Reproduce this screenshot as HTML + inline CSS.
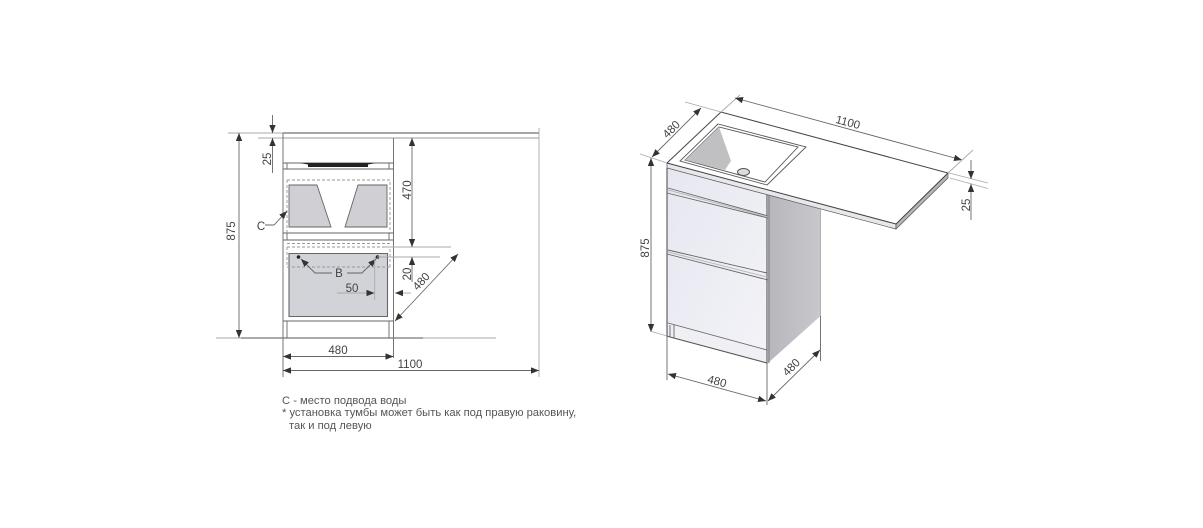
<!DOCTYPE html>
<html><head><meta charset="utf-8"><style>
html,body{margin:0;padding:0;background:#fff;width:1203px;height:528px;overflow:hidden}
svg{display:block;filter:blur(.35px)}
text{font-family:"Liberation Sans",sans-serif;fill:#444;font-size:11.5px;text-anchor:middle}
.l{stroke:#666;stroke-width:.9;fill:none}
.t{stroke:#aaa;stroke-width:.9;fill:none}
.k{stroke:#555;stroke-width:1.1;fill:none}
.d{stroke:#999;stroke-width:.9;fill:none;stroke-dasharray:3 2}
.n{font-size:11.2px;text-anchor:start;fill:#555}
</style></head><body>
<svg width="1203" height="528" viewBox="0 0 1203 528" xmlns="http://www.w3.org/2000/svg">
<defs>
<marker id="a" viewBox="0 0 10 8" refX="10" refY="4" markerWidth="8" markerHeight="6.4" markerUnits="userSpaceOnUse" orient="auto-start-reverse"><path d="M0 0L10 4L0 8z" fill="#333"/></marker>
<linearGradient id="fr" x1="0" y1="0" x2="1" y2="1"><stop offset="0" stop-color="#e6e7f0"/><stop offset="1" stop-color="#f3f3f8"/></linearGradient>
<linearGradient id="sd" x1="0" y1="0" x2="1" y2="0"><stop offset="0" stop-color="#b6b6bc"/><stop offset="1" stop-color="#c8c8cc"/></linearGradient>
</defs>

<!-- LEFT VIEW -->
<path class="t" d="M228 133H283M258 138H283M393 338H496M216 338H241"/>
<path d="M283 133H539" stroke="#888" stroke-width="1.4"/>
<path d="M283 138H539" stroke="#999" stroke-width="1.1"/>
<path class="t" d="M539 128V377"/>
<path class="l" d="M283 133V377"/>
<path class="l" d="M393.500 138V358"/>
<path d="M241 338H423" stroke="#777" stroke-width="1.3"/>
<path class="l" d="M283 321H393.500M287 321V338M389 321V338"/>
<path class="l" d="M283 163H393.500M283 169H393.500M287 163V169M389 163V169M283 233H393.500M283 240H393.500M287 233V240M389 233V240"/>
<path d="M300 163H376L368 164.500V167H308V164.500z" fill="#222"/>
<path class="d" d="M287 180H390V233M287 180V233M287 243.500H390"/>
<path d="M289 185H317L331 227H289zM358 185H387V227H345z" fill="#cfcfd4" stroke="#666" stroke-width=".9"/>
<path d="M289 253.500H387.500V316.500H289z" fill="#d2d2d9" stroke="#666" stroke-width="1.1"/>
<path class="d" d="M287 247H390V267M287 247V267M287 267H390"/>
<circle cx="298.500" cy="257" r="1.800" fill="#222"/><circle cx="377.500" cy="257" r="1.800" fill="#222"/>
<path class="l" d="M332 273H315L301 259" marker-end="url(#a)"/>
<path class="l" d="M347 273H362L376 259" marker-end="url(#a)"/>
<text x="339" y="277">В</text>
<path class="t" d="M377 257H440M385 247H451M374.700 257V300"/>
<path class="t" d="M337 293H374.500" marker-end="url(#a)"/>
<path class="t" d="M411 293H395" marker-end="url(#a)"/>
<text x="352" y="292">50</text>
<path class="l" d="M239 133V338" marker-start="url(#a)" marker-end="url(#a)"/>
<text transform="translate(235,231) rotate(-90)">875</text>
<path class="l" d="M272.500 115V133" marker-end="url(#a)"/>
<path class="l" d="M272.500 173V138" marker-end="url(#a)"/>
<text transform="translate(271,159) rotate(-90)">25</text>
<path class="l" d="M412 138V247" marker-start="url(#a)" marker-end="url(#a)"/>
<text transform="translate(411,190) rotate(-90)">470</text>
<path class="l" d="M412 282V257" marker-end="url(#a)"/>
<text transform="translate(411,274) rotate(-90)">20</text>
<path class="l" d="M395 321L458 254" marker-start="url(#a)" marker-end="url(#a)"/>
<text transform="translate(424,284) rotate(-47)">480</text>
<path class="l" d="M283 356.500H393.500" marker-start="url(#a)" marker-end="url(#a)"/>
<text x="338" y="354">480</text>
<path class="l" d="M283 370.500H539" marker-start="url(#a)" marker-end="url(#a)"/>
<text x="410" y="368">1100</text>
<path class="l" d="M265 225H274L287 211" marker-end="url(#a)"/>
<text x="261" y="230">С</text>
<text class="n" x="282" y="404">С - место подвода воды</text>
<text class="n" x="282" y="416">* установка тумбы может быть как под правую раковину,</text>
<text class="n" x="289" y="429">так и под левую</text>

<!-- RIGHT VIEW -->
<path d="M768 195L820.500 209V316L768 363z" fill="url(#sd)"/>
<path d="M667 168L767 195V363L667 336z" fill="url(#fr)"/>
<path d="M667 323L767 350V363L670 337z" fill="#f0f0f4"/>
<path d="M667 163L896 224V229L667 168z" fill="#e8e8ec" stroke="#555" stroke-width=".7"/>
<path d="M896 224L948 173V178L896 229z" fill="#b5b5b5" stroke="#555" stroke-width=".7"/>
<path d="M721 112L667 163L896 224L948 173z" fill="#fff" stroke="#444" stroke-width="1"/>
<path d="M718 124L680 161L767 185L806 147z" fill="#fff" stroke="#555" stroke-width=".9"/>
<path d="M719 127L685 160L765 182L798 147z" fill="#fff" stroke="#555" stroke-width=".9"/>
<path d="M719 127L685 160L725 170L731 161z" fill="#c0c0c3"/>
<ellipse cx="743.500" cy="172" rx="6" ry="3.500" fill="#ddd" stroke="#555"/>
<path d="M667 168V336L670 337L767 363V195" class="k"/>
<path d="M769 195V363" stroke="#777" stroke-width=".9"/>
<path class="l" d="M668 188L768 216M667 193L768 218M668 250L767 273M667 254L768 280"/>
<path d="M668 190L768 217" stroke="#bbb" stroke-width="1"/>
<path d="M668 252L767 277" stroke="#bbb" stroke-width="1"/>
<path class="l" d="M668 323L767 350"/>
<path class="l" d="M670 325V337M674 325V338"/>
<path d="M820.500 209V316" stroke="#aaa" stroke-width=".9"/>

<!-- right dims -->
<path class="l" d="M651 158V332" marker-start="url(#a)" marker-end="url(#a)"/>
<text transform="translate(649,248) rotate(-90)">875</text>
<path class="t" d="M640 154L667 163M650 331L667 336M685 102L721 112M721 112L740 95"/>
<path class="l" d="M652 157L701 108" marker-start="url(#a)" marker-end="url(#a)"/>
<text transform="translate(674,132) rotate(-45)">480</text>
<path class="l" d="M735 98L962 160" marker-start="url(#a)" marker-end="url(#a)"/>
<text transform="translate(847,126) rotate(15)">1100</text>
<path class="t" d="M948 173L973 150M949 173L988 183M950 178L988 188.500"/>
<path class="l" d="M971 160V179" marker-end="url(#a)"/>
<path class="l" d="M971 220V184" marker-end="url(#a)"/>
<text transform="translate(970,205) rotate(-90)">25</text>
<path class="l" d="M667 336V380M767 363V405M820.500 316V361"/>
<path class="l" d="M668 374L766 401" marker-start="url(#a)" marker-end="url(#a)"/>
<text transform="translate(716,385) rotate(15)">480</text>
<path class="l" d="M768 401L820 350" marker-start="url(#a)" marker-end="url(#a)"/>
<text transform="translate(794,370) rotate(-45)">480</text>
</svg>
</body></html>
